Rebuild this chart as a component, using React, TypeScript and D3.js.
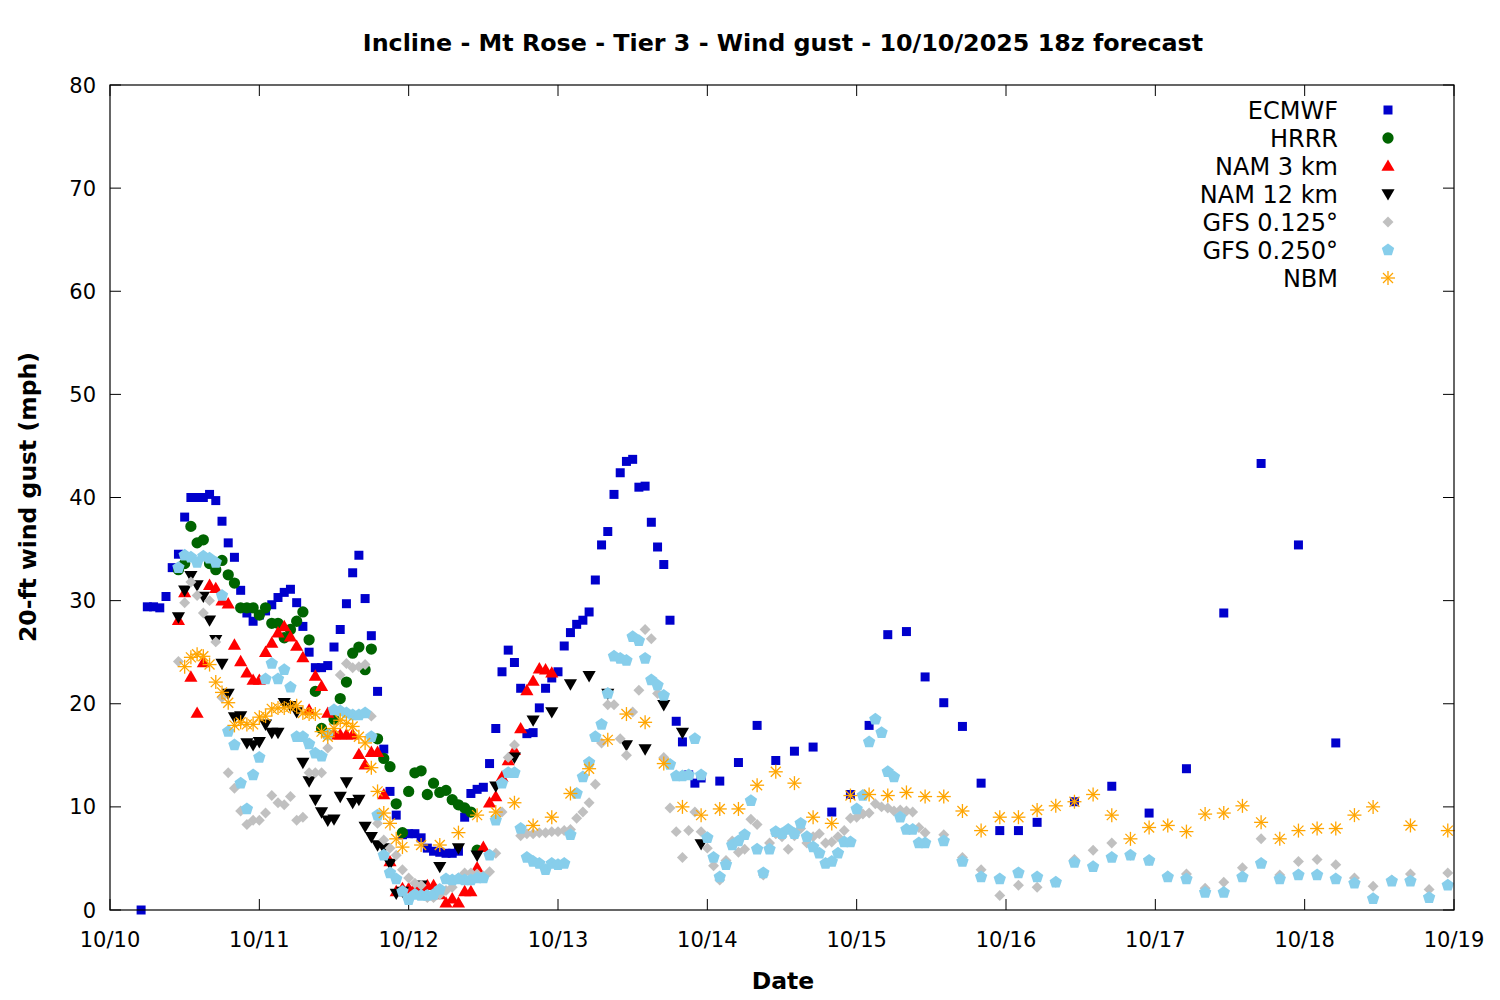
import React from 'react';
import * as d3 from 'd3';

// --- chart data (hours since 10/10 00 local, mph) ---
const dayLabels = ['10/10', '10/11', '10/12', '10/13', '10/14', '10/15', '10/16', '10/17', '10/18', '10/19'];
const yTicks = [0, 10, 20, 30, 40, 50, 60, 70, 80];

// ECMWF: hourly from h5, 3-hourly from h98, 6-hourly from h155
const ecmwfHourly = [0, 29.4, 29.4, 29.3, 30.4, 33.2, 34.5, 38.1, 40.0, 40.0, 40.0, 40.3, 39.7, 37.7, 35.6, 34.2,
  31.0, 28.8, 28.0, 28.6, 29.0, 29.6, 30.3, 30.8, 31.1, 29.8, 27.5, 25.0, 23.5, 23.5, 23.7, 25.5, 27.2, 29.7,
  32.7, 34.4, 30.2, 26.6, 21.2, 15.6, 11.5, 9.2, 7.3, 7.4, 7.4, 7.0, 6.0, 5.7, 5.6, 5.5, 5.5, 5.7, 9.0, 11.3,
  11.7, 11.9, 14.2, 17.6, 23.1, 25.2, 24.0, 21.5, 17.1, 17.2, 19.6, 21.5, 22.5, 23.1, 25.6, 26.9, 27.7, 28.1,
  28.9, 32.0, 35.4, 36.7, 40.3, 42.4, 43.5, 43.7, 41.0, 41.1, 37.6, 35.2, 33.5, 28.1, 18.3, 16.3, 13.1, 12.3, 12.8];
const ecmwf3h = [12.5, 14.3, 17.9, 14.5, 15.4, 15.8, 9.5, 11.2, 17.9, 26.7, 27.0, 22.6, 20.1, 17.8, 12.3, 7.7, 7.7, 8.5];
const ecmwf6h = [10.5, 12.0, 9.4, 13.7, 28.8, 43.3, 35.4, 16.2];

// HRRR: hourly h11-h59
const hrrrHourly = [33.0, 33.6, 37.2, 35.6, 35.9, 33.6, 33.0, 33.9, 32.5, 31.7, 29.3, 29.3, 29.3, 28.6, 29.3,
  27.8, 27.8, 26.4, 27.2, 28.0, 28.9, 26.2, 21.2, 17.6, 17.0, 18.5, 20.5, 22.1, 24.9, 25.5, 23.3, 25.3, 16.6,
  14.7, 13.9, 10.3, 7.5, 11.5, 13.3, 13.5, 11.2, 12.3, 11.4, 11.6, 10.7, 10.2, 9.9, 9.5, 5.8];

// NAM 3 km: hourly h11-h71
const nam3Hourly = [28.1, 30.8, 22.6, 19.1, 24.0, 31.5, 31.2, 30.0, 29.7, 25.7, 24.1, 23.0, 22.3, 22.3, 25.0,
  25.9, 26.9, 27.5, 26.5, 25.6, 24.5, 19.4, 22.7, 21.7, 19.1, 17.0, 17.0, 17.0, 17.0, 15.1, 14.1, 15.3, 15.3,
  11.2, 4.7, 1.8, 2.1, 2.1, 2.2, 2.0, 2.4, 2.4, 1.5, 0.7, 1.1, 0.7, 1.8, 1.8, 4.1, 6.1, 10.4, 11.0, 12.9, 14.5,
  15.5, 17.6, 21.3, 22.2, 23.4, 23.3, 23.0];

// NAM 12 km: hourly h11-h47, 3-hourly h50-h95
const nam12Hourly = [28.4, 31.0, 32.4, 31.5, 30.4, 28.1, 26.2, 23.9, 21.0, 18.7, 18.8, 16.2, 16.0, 16.3, 18.0,
  17.2, 17.2, 20.1, 19.8, 19.2, 14.3, 12.5, 10.7, 9.5, 8.7, 8.8, 11.0, 12.4, 10.4, 10.7, 8.1, 7.1, 6.3, 6.0,
  4.5, 1.6, 1.8];
const nam12_3h = [2.4, 4.2, 6.0, 5.3, 12.0, 14.8, 18.4, 19.2, 21.9, 22.7, 21.0, 16.0, 15.6, 19.9, 17.2, 6.4];

// GFS 0.125: hourly h11-h131, 3-hourly h134-h215
const gfs125Hourly = [24.1, 29.8, 31.8, 30.5, 28.8, 30.0, 26.0, 20.6, 13.3, 11.8, 9.6, 8.3, 8.7, 8.7, 9.4, 11.1,
  10.4, 10.2, 11.0, 8.7, 9.0, 13.3, 13.3, 13.3, 15.7, 19.5, 22.8, 23.9, 23.5, 23.6, 23.8, 18.8, 8.4, 6.8, 6.0,
  5.3, 3.9, 3.1, 2.6, 2.4, 1.2, 1.2, 1.5, 1.9, 2.2, 3.1, 3.6, 3.6, 3.5, 3.3, 3.7, 5.5, 9.5, 14.8, 16.0, 7.2, 7.4,
  7.4, 7.5, 7.5, 7.6, 7.6, 7.7, 7.8, 8.9, 9.5, 10.4, 12.2, 16.2, 19.9, 19.9, 16.6, 15.0, 19.2, 21.3, 27.2, 26.3,
  21.0, 14.8, 9.9, 7.6, 5.1, 7.7, 9.5, 7.6, 6.0, 4.3, 2.9, 4.8, 6.7, 5.6, 5.9, 8.8, 8.3, 3.4, 6.5, 7.4, 7.1, 5.9,
  7.2, 7.9, 6.5, 7.1, 7.4, 6.5, 6.6, 7.1, 7.7, 8.9, 9.0, 9.3, 9.4, 10.3, 10.0, 9.9, 9.6, 9.7, 9.6, 9.5, 8.0, 7.5];
const gfs125_3h = [7.3, 5.1, 3.9, 1.4, 2.4, 2.2, 2.7, 4.9, 5.8, 6.5, 5.3, 4.8, 3.3, 3.5, 2.1, 2.7, 4.1, 6.9, 3.4,
  4.7, 4.9, 4.4, 3.1, 2.3, 2.9, 3.5, 2.0, 3.6];

// GFS 0.250: hourly h11-h131, 3-hourly h134-h215
const gfs250Hourly = [33.2, 34.4, 34.2, 33.7, 34.3, 34.1, 33.7, 30.5, 17.3, 16.0, 12.3, 9.8, 13.1, 14.8, 22.4,
  23.9, 22.4, 23.3, 21.6, 16.8, 16.8, 16.1, 15.2, 14.9, 17.0, 19.4, 19.3, 19.1, 18.9, 18.9, 19.1, 16.8, 9.2, 5.3,
  3.6, 3.0, 1.8, 1.0, 1.5, 1.4, 1.4, 1.5, 2.0, 3.0, 2.9, 3.0, 2.9, 2.9, 3.1, 3.1, 5.3, 8.7, 12.3, 13.3, 13.3, 7.9,
  5.1, 4.7, 4.5, 3.9, 4.5, 4.4, 4.5, 7.3, 11.3, 12.9, 14.3, 16.8, 18.0, 21.0, 24.6, 24.4, 24.2, 26.5, 26.1, 24.4,
  22.3, 21.8, 20.8, 14.1, 13.0, 13.0, 13.1, 16.6, 13.1, 7.0, 5.1, 3.2, 4.4, 6.3, 6.7, 7.3, 10.6, 5.9, 3.6, 5.9,
  7.6, 7.4, 7.8, 7.4, 8.4, 7.1, 6.1, 5.5, 4.5, 4.7, 5.5, 6.6, 6.6, 9.8, 11.1, 16.3, 18.5, 17.2, 13.4, 12.9, 9.0,
  7.8, 7.8, 6.5, 6.5];
const gfs250_3h = [6.7, 4.7, 3.2, 3.0, 3.6, 3.2, 2.7, 4.6, 4.2, 5.1, 5.3, 4.8, 3.2, 3.0, 1.7, 1.7, 3.2, 4.5, 3.0,
  3.4, 3.4, 3.0, 2.6, 1.1, 2.8, 2.8, 1.2, 2.4];

// NBM: hourly h12-h47, 3-hourly h50-h203, 6-hourly h209-h215
const nbmHourly = [23.6, 24.5, 24.8, 24.6, 23.8, 22.1, 21.1, 20.1, 17.9, 18.2, 18.0, 18.0, 18.7, 18.8, 19.5, 19.6,
  19.6, 19.7, 19.8, 19.1, 19.0, 19.0, 17.3, 16.8, 17.6, 18.4, 18.1, 17.8, 16.8, 16.2, 13.8, 11.5, 9.4, 8.4, 6.9, 6.1];
const nbm3h = [6.3, 6.3, 7.5, 9.2, 9.5, 10.4, 8.2, 9.0, 11.3, 13.7, 16.5, 19.0, 18.2, 14.2, 10.0, 9.2, 9.8, 9.8,
  12.1, 13.4, 12.3, 9.0, 8.4, 11.1, 11.2, 11.1, 11.4, 11.0, 11.0, 9.6, 7.7, 9.0, 9.0, 9.7, 10.1, 10.5, 11.2, 9.2,
  6.9, 8.0, 8.2, 7.6, 9.3, 9.4, 10.1, 8.5, 6.9, 7.7, 7.9, 7.9, 9.2, 10.0];
const nbm6h = [8.2, 7.7];

type Seg = [number, number, number[]]; // start hour, step, values
type Shape = 'square' | 'circle' | 'up' | 'down' | 'diamond' | 'pentagon' | 'star';
interface Series { name: string; color: string; shape: Shape; segs: Seg[] }

const series: Series[] = [
  { name: 'ECMWF', color: '#0000cc', shape: 'square', segs: [[5, 1, ecmwfHourly], [98, 3, ecmwf3h], [155, 6, ecmwf6h]] },
  { name: 'HRRR', color: '#006400', shape: 'circle', segs: [[11, 1, hrrrHourly]] },
  { name: 'NAM 3 km', color: '#ff0000', shape: 'up', segs: [[11, 1, nam3Hourly]] },
  { name: 'NAM 12 km', color: '#000000', shape: 'down', segs: [[11, 1, nam12Hourly], [50, 3, nam12_3h]] },
  { name: 'GFS 0.125°', color: '#c0c0c0', shape: 'diamond', segs: [[11, 1, gfs125Hourly], [134, 3, gfs125_3h]] },
  { name: 'GFS 0.250°', color: '#87ceeb', shape: 'pentagon', segs: [[11, 1, gfs250Hourly], [134, 3, gfs250_3h]] },
  { name: 'NBM', color: '#ffa500', shape: 'star', segs: [[12, 1, nbmHourly], [50, 3, nbm3h], [209, 6, nbm6h]] },
];

const W = 1500, H = 1000;
const plot = { x0: 110, x1: 1454, y0: 85, y1: 910 };
const x = d3.scaleLinear().domain([0, 216]).range([plot.x0, plot.x1]);
const y = d3.scaleLinear().domain([0, 80]).range([plot.y1, plot.y0]);
const font = 'DejaVu Sans, sans-serif';

const pentagon = (() => {
  const r = 6.5;
  const pts = d3.range(5).map(k => {
    const a = -Math.PI / 2 + (k * 2 * Math.PI) / 5;
    return [r * Math.cos(a), r * Math.sin(a)];
  });
  return 'M' + pts.map(p => p.join(',')).join('L') + 'Z';
})();
const squarePath = d3.symbol(d3.symbolSquare, 81)()!;
const circlePath = d3.symbol(d3.symbolCircle, 100)()!;
const triPath = d3.symbol(d3.symbolTriangle, 75)()!;
const diamondPath = d3.symbol(d3.symbolSquare, 60)()!;

function Marker({ shape, color, cx, cy }: { shape: Shape; color: string; cx: number; cy: number }) {
  const t = `translate(${cx},${cy})`;
  switch (shape) {
    case 'square': return <path d={squarePath} transform={t} fill={color} />;
    case 'circle': return <path d={circlePath} transform={t} fill={color} />;
    case 'up': return <path d={triPath} transform={`${t} translate(0,1)`} fill={color} />;
    case 'down': return <path d={triPath} transform={`${t} rotate(180) translate(0,1)`} fill={color} />;
    case 'diamond': return <path d={diamondPath} transform={`${t} rotate(45)`} fill={color} />;
    case 'pentagon': return <path d={pentagon} transform={t} fill={color} />;
    case 'star': {
      const r = 7, d = 5;
      return (
        <g transform={t} stroke={color} strokeWidth={1.3}>
          <line x1={-r} y1={0} x2={r} y2={0} />
          <line x1={0} y1={-r} x2={0} y2={r} />
          <line x1={-d} y1={-d} x2={d} y2={d} />
          <line x1={-d} y1={d} x2={d} y2={-d} />
        </g>
      );
    }
  }
}

export default function App() {
  const tickLen = 11;
  return (
    <svg width={W} height={H} style={{ position: 'absolute', left: 0, top: 0, background: '#fff' }}>
      <rect x={0} y={0} width={W} height={H} fill="#fff" />
      <text x={783} y={51} textAnchor="middle" fontFamily={font} fontWeight="bold" fontSize={23.8}>
        Incline - Mt Rose - Tier 3 - Wind gust - 10/10/2025 18z forecast
      </text>

      {/* ticks */}
      {yTicks.map(v => (
        <g key={'y' + v}>
          <line x1={plot.x0} x2={plot.x0 + tickLen} y1={y(v)} y2={y(v)} stroke="#000" />
          <line x1={plot.x1 - tickLen} x2={plot.x1} y1={y(v)} y2={y(v)} stroke="#000" />
          <text x={96} y={y(v) + 7.5} textAnchor="end" fontFamily={font} fontSize={21}>{v}</text>
        </g>
      ))}
      {dayLabels.map((lab, i) => (
        <g key={lab}>
          <line x1={x(i * 24)} x2={x(i * 24)} y1={plot.y1} y2={plot.y1 - tickLen} stroke="#000" />
          <line x1={x(i * 24)} x2={x(i * 24)} y1={plot.y0} y2={plot.y0 + tickLen} stroke="#000" />
          <text x={x(i * 24)} y={947} textAnchor="middle" fontFamily={font} fontSize={21}>{lab}</text>
        </g>
      ))}

      <text x={783} y={989} textAnchor="middle" fontFamily={font} fontWeight="bold" fontSize={23.5}>Date</text>
      <text transform="translate(36,497) rotate(-90)" textAnchor="middle" fontFamily={font} fontWeight="bold" fontSize={23.5}>
        20-ft wind gust (mph)
      </text>

      {/* data */}
      {series.map(s => (
        <g key={s.name}>
          {s.segs.flatMap(([start, step, vals], si) =>
            vals.map((v, i) => (
              <Marker key={`${si}-${i}`} shape={s.shape} color={s.color} cx={x(start + i * step)} cy={y(v)} />
            ))
          )}
        </g>
      ))}

      {/* legend */}
      {series.map((s, i) => (
        <g key={'lg' + s.name}>
          <text x={1338} y={110 + i * 28 + 8.5} textAnchor="end" fontFamily={font} fontSize={24}>{s.name}</text>
          <Marker shape={s.shape} color={s.color} cx={1388} cy={110 + i * 28} />
        </g>
      ))}

      <rect x={plot.x0} y={plot.y0} width={plot.x1 - plot.x0} height={plot.y1 - plot.y0} fill="none" stroke="#000" strokeWidth={1.2} />
    </svg>
  );
}
